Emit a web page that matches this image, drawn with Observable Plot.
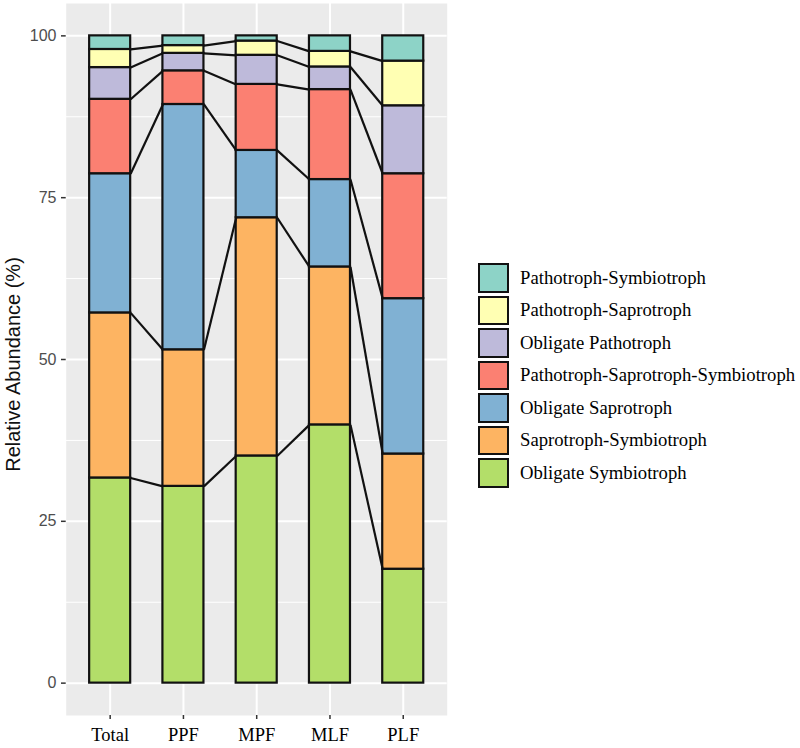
<!DOCTYPE html>
<html>
<head>
<meta charset="utf-8">
<script src="https://cdn.jsdelivr.net/npm/d3@7"></script>
<script src="https://cdn.jsdelivr.net/npm/@observablehq/plot@0.6"></script>
<style>
  html, body { margin: 0; padding: 0; background: #fff; }
  #wrap { position: relative; width: 800px; height: 748px; }
  #legend { position: absolute; left: 478px; top: 261.5px; font-family: "Liberation Serif", "Times New Roman", serif; font-size: 18.7px; color: #000; }
  .row { display: flex; align-items: center; height: 32.5px; }
  .key { width: 31px; height: 29.5px; box-sizing: border-box; border: 2.2px solid #111; margin-right: 11px; }
</style>
</head>
<body>
<div id="wrap"></div>
<script>
// Categories (x axis)
const categories = ["Total", "PPF", "MPF", "MLF", "PLF"];
// Guilds, bottom to top of each stack
const guilds = ["Obligate Symbiotroph", "Saprotroph-Symbiotroph", "Obligate Saprotroph",
  "Pathotroph-Saprotroph-Symbiotroph", "Obligate Pathotroph", "Pathotroph-Saprotroph", "Pathotroph-Symbiotroph"];
const guildColors = ["#B3DE69", "#FDB462", "#80B1D3", "#FB8072", "#BEBADA", "#FFFFB3", "#8DD3C7"];
// Values (%) per category, in category order
const obligateSymbiotroph = [31.7, 30.4, 35.1, 39.9, 17.6];
const saprotrophSymbiotroph = [25.5, 21.1, 36.8, 24.4, 17.8];
const obligateSaprotroph = [21.5, 37.9, 10.4, 13.5, 24.0];
const pathSapSym = [11.5, 5.2, 10.2, 13.9, 19.3];
const obligatePathotroph = [4.9, 2.7, 4.5, 3.5, 10.5];
const pathotrophSaprotroph = [2.8, 1.2, 2.2, 2.4, 6.9];
const pathotrophSymbiotroph = [2.1, 1.5, 0.8, 2.4, 3.9];
// y ticks
const yTicks = [0, 25, 50, 75, 100];
const yMinor = [12.5, 37.5, 62.5, 87.5];

const series = [obligateSymbiotroph, saprotrophSymbiotroph, obligateSaprotroph, pathSapSym,
  obligatePathotroph, pathotrophSaprotroph, pathotrophSymbiotroph];

const half = 0.28;
const rows = [];
const cum = categories.map(() => []);
categories.forEach((c, i) => {
  let acc = 0;
  series.forEach((s, k) => {
    rows.push({cat: c, i, guild: guilds[k], y1: acc, y2: acc + s[i]});
    acc += s[i];
    cum[i][k] = acc;
  });
});
const links = [];
for (let k = 0; k < guilds.length - 1; k++) {
  for (let i = 0; i < categories.length - 1; i++) {
    links.push({x1: i + half, x2: i + 1 - half, y1: cum[i][k], y2: cum[i + 1][k]});
  }
}

const chart = Plot.plot({
  width: 800,
  height: 748,
  marginLeft: 65.7,
  marginRight: 353.3,
  marginTop: 3,
  marginBottom: 33,
  style: {background: "#fff", fontFamily: "'Liberation Sans', Helvetica, Arial, sans-serif"},
  x: {type: "linear", domain: [-0.6, 4.6]},
  y: {domain: [-5, 105]},
  color: {domain: guilds, range: guildColors},
  marks: [
    Plot.frame({fill: "#EBEBEB", stroke: null}),
    Plot.gridY(yMinor, {stroke: "#fff", strokeOpacity: 1, strokeWidth: 1}),
    Plot.gridY(yTicks, {stroke: "#fff", strokeOpacity: 1, strokeWidth: 2}),
    Plot.gridX([0, 1, 2, 3, 4], {stroke: "#fff", strokeOpacity: 1, strokeWidth: 2}),
    Plot.rect(rows, {x1: d => d.i - half, x2: d => d.i + half, y1: "y1", y2: "y2", fill: "guild", stroke: "#111", strokeWidth: 2.2}),
    Plot.link(links, {x1: "x1", x2: "x2", y1: "y1", y2: "y2", stroke: "#111", strokeWidth: 2.2}),
    Plot.axisY(yTicks, {tickSize: 4.7, tickPadding: 5, fontSize: 16, fill: "#4D4D4D", stroke: "#333", strokeWidth: 1.5, label: null}),
    Plot.axisX([0, 1, 2, 3, 4], {tickSize: 4, tickPadding: 8, tickFormat: i => categories[i], fontSize: 18.5,
      fontFamily: "'Liberation Serif', 'Times New Roman', serif", fill: "#000", stroke: "#333", strokeWidth: 1.5, label: null}),
    Plot.text(["Relative Abundance (%)"], {frameAnchor: "left", rotate: -90, dx: -52.7, dy: 5, fontSize: 20, fill: "#111", lineAnchor: "middle", textAnchor: "middle"})
  ]
});

const wrap = document.getElementById("wrap");
wrap.appendChild(chart);
const legend = document.createElement("div");
legend.id = "legend";
for (let k = guilds.length - 1; k >= 0; k--) {
  const r = document.createElement("div");
  r.className = "row";
  const key = document.createElement("div");
  key.className = "key";
  key.style.background = guildColors[k];
  const t = document.createElement("span");
  t.textContent = guilds[k];
  r.appendChild(key);
  r.appendChild(t);
  legend.appendChild(r);
}
wrap.appendChild(legend);
</script>
</body>
</html>
